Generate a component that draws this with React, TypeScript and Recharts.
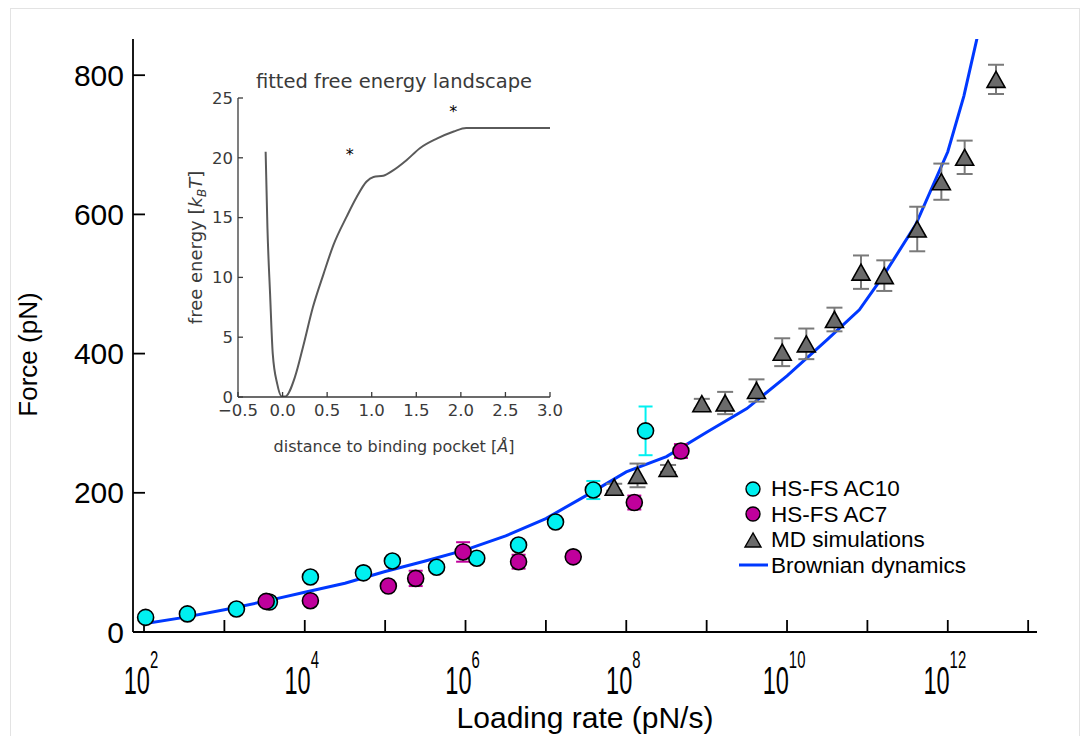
import React from "react";
import { ComposedChart, Line, Scatter, XAxis, YAxis, ErrorBar, Legend } from "recharts";

// main plot: x is log10 of the loading rate (pN/s), y is force (pN)
const X_MIN = 1.863;
const X_MAX = 13.11;
const Y_MAX = 852;

const rateTicks = [2, 3, 4, 5, 6, 7, 8, 9, 10, 11, 12, 13];
const forceTicks = [0, 200, 400, 600, 800];

const ac10Rate = [2.02, 2.54, 3.15, 3.56, 4.07, 4.73, 5.09, 5.64, 6.14, 6.66, 7.12, 7.59, 8.24];
const ac10Force = [21, 26, 33, 43, 79, 85, 102, 93, 106, 125, 158, 204, 289];
const ac10Err = [0, 0, 0, 0, 0, 0, 0, 0, 0, 0, 0, 13, 35];

const ac7Rate = [3.52, 4.07, 5.04, 5.38, 5.97, 6.66, 7.34, 8.1, 8.68];
const ac7Force = [44, 45, 66, 77, 115, 101, 108, 186, 260];
const ac7Err = [0, 0, 0, 11, 14, 10, 4, 10, 10];

const mdRate = [7.85, 8.14, 8.52, 8.94, 9.23, 9.62, 9.94, 10.24, 10.59, 10.92, 11.21, 11.62, 11.92, 12.21, 12.6];
const mdForce = [208, 225, 235, 328, 329, 347, 402, 414, 449, 517, 512, 579, 647, 682, 794];
const mdErr = [5, 17, 5, 7, 16, 16, 20, 22, 17, 24, 22, 32, 26, 24, 21];

const bdRate = [2.0, 2.5, 3.0, 3.5, 4.0, 4.5, 5.0, 5.5, 6.0, 6.5, 7.0, 7.5, 8.0, 8.5, 9.0, 9.5, 10.0, 10.5, 10.9, 11.2, 11.6, 12.0, 12.2, 12.5];
const bdForce = [12, 21, 32, 44, 57, 70, 87, 102, 118, 138, 163, 196, 230, 252, 287, 321, 368, 420, 463, 512, 585, 690, 770, 922];

// inset: fitted free energy landscape
const dist = [-0.19, -0.17, -0.14, -0.11, -0.06, -0.01, 0.03, 0.14, 0.23, 0.34, 0.46, 0.57, 0.72, 0.83, 0.94, 1.02, 1.13, 1.24, 1.39, 1.54, 1.73, 1.92, 2.06, 2.2, 3.0];
const energy = [20.5, 14.2, 8.6, 3.6, 1.1, 0.05, 0.05, 1.7, 4.2, 7.5, 10.3, 12.7, 15.1, 16.7, 18.0, 18.4, 18.5, 18.95, 19.8, 20.8, 21.6, 22.2, 22.5, 22.5, 22.5];
const starDist = [0.754, 1.915];
const starEnergy = [20.4, 24.0];
const distTicks = [-0.5, 0, 0.5, 1, 1.5, 2, 2.5, 3];
const energyTicks = [0, 5, 10, 15, 20, 25];

const CYAN = "#00f0f0";
const MAGENTA = "#c0009c";
const GRAY = "#6b6b6b";
const BLUE = "#0038ff";
const INK = "#3a3a3a";
const SANS = "'Liberation Sans', Arial, Helvetica, sans-serif";
const MPL = "'DejaVu Sans', sans-serif";

const INSET_PLOT_H = 299;

const zip = (xs: number[], ys: number[], es?: number[]) =>
  xs.map((x, i) => ({ x, y: ys[i], err: es ? es[i] : 0 }));

const ac10 = zip(ac10Rate, ac10Force, ac10Err);
const ac7 = zip(ac7Rate, ac7Force, ac7Err);
const md = zip(mdRate, mdForce, mdErr);
const bd = zip(bdRate, bdForce);
const landscape = zip(dist, energy);
const stars = zip(starDist, starEnergy);

const legendItems = [
  { label: "HS-FS AC10", kind: "circle", color: CYAN },
  { label: "HS-FS AC7", kind: "circle", color: MAGENTA },
  { label: "MD simulations", kind: "triangle", color: GRAY },
  { label: "Brownian dynamics", kind: "line", color: BLUE },
];

const Dot = (color: string) => (p: any) =>
  <circle cx={p.cx} cy={p.cy} r={8} fill={color} stroke="#000" strokeWidth={1.6} />;

const Tri = (p: any) => (
  <polygon
    points={`${p.cx},${p.cy - 8} ${p.cx - 9},${p.cy + 8} ${p.cx + 9},${p.cy + 8}`}
    fill={GRAY}
    stroke="#000"
    strokeWidth={1.6}
  />
);

const Star = (p: any) => (
  <text x={p.cx} y={p.cy + 7} textAnchor="middle" fontSize={16} fontFamily={MPL} fill="#000">*</text>
);

function RateTick(props: any) {
  const { x, y, payload } = props;
  if (payload.value % 2 !== 0) return null;
  return (
    <g transform={`translate(${x - 3},${y})`}>
      <text transform="scale(0.62,1)" y={62} textAnchor="middle" fontFamily={SANS} fill="#000">
        <tspan fontSize={38}>10</tspan>
        <tspan fontSize={24} dy={-26}>{payload.value}</tspan>
      </text>
    </g>
  );
}

function RateTitle(props: any) {
  const vb = props.viewBox || { x: 133, y: 632, width: 904 };
  return (
    <text x={vb.x + vb.width / 2} y={vb.y + 96} textAnchor="middle" fontSize={30} fontFamily={SANS} fill="#000">
      Loading rate (pN/s)
    </text>
  );
}

function ForceTitle(props: any) {
  const vb = props.viewBox || { x: 53, y: 39, height: 593 };
  const cx = 37;
  const cy = vb.y + vb.height / 2 + 19;
  return (
    <text x={cx} y={cy} transform={`rotate(-90,${cx},${cy})`} textAnchor="middle" fontSize={26} fontFamily={SANS} fill="#000">
      Force (pN)
    </text>
  );
}

function LegendBox() {
  return (
    <div style={{ fontFamily: SANS, fontSize: 22.5, color: "#000", lineHeight: "25.5px" }}>
      {legendItems.map((it) => (
        <div key={it.label} style={{ display: "flex", alignItems: "center", whiteSpace: "nowrap" }}>
          <svg width={32} height={24} style={{ marginRight: 2 }}>
            {it.kind === "circle" && <circle cx={16} cy={12} r={7} fill={it.color} stroke="#000" strokeWidth={1.4} />}
            {it.kind === "triangle" && (
              <polygon points="16,5 8,19 24,19" fill={it.color} stroke="#000" strokeWidth={1.4} />
            )}
            {it.kind === "line" && <line x1={2} y1={12} x2={31} y2={12} stroke={it.color} strokeWidth={3} />}
          </svg>
          <span>{it.label}</span>
        </div>
      ))}
    </div>
  );
}

// bottom axis label of the inset, also carries the inset title above the plot
function InsetXTitle(props: any) {
  const vb = props.viewBox || { x: 238, y: 337, width: 312 };
  const cx = vb.x + vb.width / 2;
  return (
    <g>
      <text x={cx} y={vb.y - INSET_PLOT_H - 10} textAnchor="middle" fontSize={19.5} fontFamily={MPL} fill={INK}>
        fitted free energy landscape
      </text>
      <text x={cx} y={vb.y + 55} textAnchor="middle" fontSize={16} fontFamily={MPL} fill={INK}>
        distance to binding pocket [<tspan fontStyle="italic">Å</tspan>]
      </text>
    </g>
  );
}

function InsetYTitle(props: any) {
  const vb = props.viewBox || { x: 18, y: 38, height: 299 };
  const cx = 22;
  const cy = vb.y + vb.height / 2;
  return (
    <text x={cx} y={cy} transform={`rotate(-90,${cx},${cy})`} textAnchor="middle" fontSize={18} fontFamily={MPL} fill={INK}>
      free energy [<tspan fontStyle="italic">k</tspan>
      <tspan fontStyle="italic" fontSize={12} dy={4}>B</tspan>
      <tspan fontStyle="italic" dy={-4}>T</tspan>]
    </text>
  );
}

const fmtDist = (v: number) => v.toFixed(1).replace("-", "\u2212");

function Inset() {
  const tickStyle = { fontSize: 16.5, fontFamily: MPL, fill: INK };
  const axisLine = { stroke: INK, strokeWidth: 1.3 };
  return (
    <ComposedChart width={400} height={400} margin={{ top: 38, right: 30, bottom: 23, left: 18 }}>
      <XAxis
        type="number"
        dataKey="x"
        domain={[-0.5, 3]}
        ticks={distTicks}
        interval={0}
        allowDataOverflow
        tickFormatter={fmtDist}
        tickSize={-5}
        tickMargin={12}
        height={40}
        tick={tickStyle}
        axisLine={axisLine}
        tickLine={axisLine}
        label={<InsetXTitle />}
      />
      <XAxis xAxisId="top" orientation="top" type="number" domain={[-0.5, 3]} ticks={distTicks} interval={0}
        height={0} tick={false} tickSize={-5} axisLine={axisLine} tickLine={axisLine} />
      <YAxis
        type="number"
        dataKey="y"
        domain={[0, 25]}
        ticks={energyTicks}
        interval={0}
        allowDataOverflow
        tickSize={-5}
        tickMargin={10}
        width={40}
        tick={tickStyle}
        axisLine={axisLine}
        tickLine={axisLine}
        label={<InsetYTitle />}
      />
      <YAxis yAxisId="right" orientation="right" type="number" domain={[0, 25]} ticks={energyTicks} interval={0}
        width={0} tick={false} tickSize={-5} axisLine={axisLine} tickLine={axisLine} />
      <Line data={landscape} dataKey="y" type="monotone" stroke="#5a5a5a" strokeWidth={2} dot={false} isAnimationActive={false} />
      <Scatter data={stars} shape={Star} isAnimationActive={false} />
    </ComposedChart>
  );
}

export default function App() {
  const frame = { stroke: "#000", strokeWidth: 1.8 };
  return (
    <div style={{ position: "absolute", left: 0, top: 0, width: 1089, height: 736, background: "#fff", overflow: "hidden" }}>
      <div style={{ position: "absolute", left: 10, top: 8, width: 1068, height: 760, border: "1px solid #e3e3e3" }} />
      <div style={{ position: "absolute", left: 0, top: 0 }}>
        <ComposedChart width={1089} height={736} margin={{ top: 39, right: 52, bottom: 44, left: 53 }}>
          <XAxis
            type="number"
            dataKey="x"
            domain={[X_MIN, X_MAX]}
            ticks={rateTicks}
            interval={0}
            allowDataOverflow
            tickSize={-12}
            tickMargin={12}
            height={60}
            tick={<RateTick />}
            axisLine={frame}
            tickLine={frame}
            label={<RateTitle />}
          />
          <XAxis xAxisId="top" orientation="top" type="number" domain={[X_MIN, X_MAX]} height={0}
            tick={false} tickLine={false} axisLine={frame} />
          <YAxis
            type="number"
            dataKey="y"
            domain={[0, Y_MAX]}
            ticks={forceTicks}
            interval={0}
            allowDataOverflow
            tickSize={-12}
            tickMargin={21}
            width={80}
            tick={{ fontSize: 30, fontFamily: SANS, fill: "#000" }}
            axisLine={frame}
            tickLine={frame}
            label={<ForceTitle />}
          />
          <YAxis yAxisId="right" orientation="right" type="number" domain={[0, Y_MAX]} width={0}
            tick={false} tickLine={false} axisLine={frame} />
          <Line data={bd} dataKey="y" type="linear" stroke={BLUE} strokeWidth={3} dot={false} isAnimationActive={false} />
          <Scatter data={ac10} shape={Dot(CYAN)} isAnimationActive={false}>
            <ErrorBar dataKey="err" direction="y" width={7} stroke={CYAN} strokeWidth={2} />
          </Scatter>
          <Scatter data={ac7} shape={Dot(MAGENTA)} isAnimationActive={false}>
            <ErrorBar dataKey="err" direction="y" width={7} stroke={MAGENTA} strokeWidth={2} />
          </Scatter>
          <Scatter data={md} shape={Tri} isAnimationActive={false}>
            <ErrorBar dataKey="err" direction="y" width={8} stroke="#7a7a7a" strokeWidth={2} />
          </Scatter>
          <Legend
            layout="vertical"
            align="center"
            verticalAlign="middle"
            content={<LegendBox />}
            wrapperStyle={{ left: 737, top: 476, width: 260 }}
          />
        </ComposedChart>
      </div>
      <div style={{ position: "absolute", left: 180, top: 60 }}>
        <Inset />
      </div>
    </div>
  );
}
